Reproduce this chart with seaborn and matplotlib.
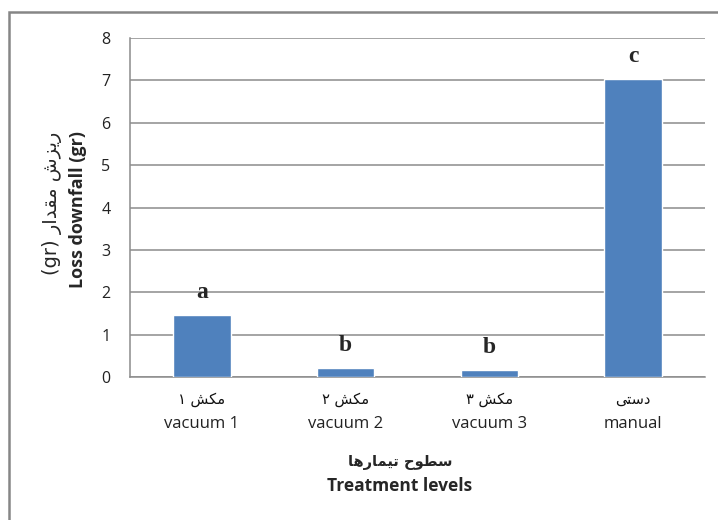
import matplotlib
matplotlib.use("Agg")
import matplotlib.pyplot as plt
import seaborn as sns
from matplotlib.patches import Rectangle

# data
labels_en = ["vacuum 1", "vacuum 2", "vacuum 3", "manual"]
labels_fa = ["مکش ۱", "مکش ۲", "مکش ۳", "دستی"]
loss = [1.46, 0.21, 0.17, 7.03]
groups = ["a", "b", "b", "c"]
yticks = [0, 1, 2, 3, 4, 5, 6, 7, 8]

xlabel_fa = "سطوح تیمارها"
xlabel_en = "Treatment levels"
ylabel_fa = "ریزش مقدار"
ylabel_en = "Loss downfall (gr)"

# minimal Persian shaping (matplotlib draws no joined forms by itself)
FORMS = {
    "ا": ("\uFE8D", "\uFE8E"),
    "د": ("\uFEA9", "\uFEAA"),
    "ر": ("\uFEAD", "\uFEAE"),
    "ز": ("\uFEAF", "\uFEB0"),
    "و": ("\uFEED", "\uFEEE"),
    "س": ("\uFEB1", "\uFEB2", "\uFEB3", "\uFEB4"),
    "ش": ("\uFEB5", "\uFEB6", "\uFEB7", "\uFEB8"),
    "ط": ("\uFEC1", "\uFEC2", "\uFEC3", "\uFEC4"),
    "ح": ("\uFEA1", "\uFEA2", "\uFEA3", "\uFEA4"),
    "ق": ("\uFED5", "\uFED6", "\uFED7", "\uFED8"),
    "م": ("\uFEE1", "\uFEE2", "\uFEE3", "\uFEE4"),
    "ت": ("\uFE95", "\uFE96", "\uFE97", "\uFE98"),
    "ه": ("\uFEE9", "\uFEEA", "\uFEEB", "\uFEEC"),
    "ک": ("\uFB8E", "\uFB8F", "\uFB90", "\uFB91"),
    "ی": ("\uFBFC", "\uFBFD", "\uFBFE", "\uFBFF"),
}


def rtl(s):
    out = []
    for i, ch in enumerate(s):
        if ch not in FORMS:
            out.append(ch)
            continue
        f = FORMS[ch]
        prev = s[i - 1] if i > 0 else ""
        nxt = s[i + 1] if i + 1 < len(s) else ""
        jp = prev in FORMS and len(FORMS[prev]) == 4
        jn = len(f) == 4 and nxt in FORMS
        if jp and jn:
            out.append(f[3])
        elif jp:
            out.append(f[1])
        elif jn:
            out.append(f[2])
        else:
            out.append(f[0])
    return "".join(out)[::-1]


sns.set_style("white")
plt.rcParams["font.family"] = ["Open Sans", "DejaVu Sans"]

fig = plt.figure(figsize=(7.18, 5.2), dpi=100)
ax = fig.add_axes([130 / 718, 1 - 377 / 520, 575 / 718, 339 / 520])

sns.barplot(x=labels_en, y=loss, color="#4F81BD", saturation=1, width=0.4, ax=ax, zorder=3)

ax.set_ylim(0, 8)
ax.set_xlim(-0.5, 3.5)
ax.set_yticks(yticks)
ax.yaxis.grid(True, color="#8c8c8c", linewidth=1.1, zorder=0)
ax.tick_params(axis="y", length=5, width=1.1, color="#8c8c8c", labelsize=11.5, pad=9, labelcolor="#222222")
ax.tick_params(axis="x", length=0, labelsize=12, pad=28, labelcolor="#222222")
for sp in ["top", "right"]:
    ax.spines[sp].set_visible(False)
for sp in ["left", "bottom"]:
    ax.spines[sp].set_color("#8c8c8c")
    ax.spines[sp].set_linewidth(1.1)

# letters above bars
for i, (v, g) in enumerate(zip(loss, groups)):
    ax.annotate(g, (i, v), xytext=(0, 12), textcoords="offset points", ha="center", va="baseline",
                family="Liberation Serif", fontweight="bold", fontsize=17)

# Persian tick label line
for i, s in enumerate(labels_fa):
    ax.text(i, -0.065, rtl(s), transform=ax.get_xaxis_transform(), ha="center", va="center",
            family="DejaVu Sans", fontsize=10.5, color="#111111")

# axis titles
fig.text(400 / 718, 1 - 463 / 520, rtl(xlabel_fa), ha="center", va="center",
         family="DejaVu Sans", fontweight="bold", fontsize=10.5)
fig.text(400 / 718, 1 - 486 / 520, xlabel_en, ha="center", va="center",
         fontweight="bold", fontsize=12.5)
fig.text(52 / 718, 1 - 203 / 520, "(gr) " + rtl(ylabel_fa), rotation=90, ha="center", va="center",
         family="DejaVu Sans", fontsize=14)
fig.text(78 / 718, 1 - 210 / 520, ylabel_en, rotation=90, ha="center", va="center",
         fontweight="bold", fontsize=13)

# outer chart frame
fig.patches.append(Rectangle((9 / 718, -0.05), 1.1, 1 - 12 / 520 + 0.05, transform=fig.transFigure,
                             fill=False, edgecolor="#868686", linewidth=1.8))

fig.savefig("out.png", dpi=100)
